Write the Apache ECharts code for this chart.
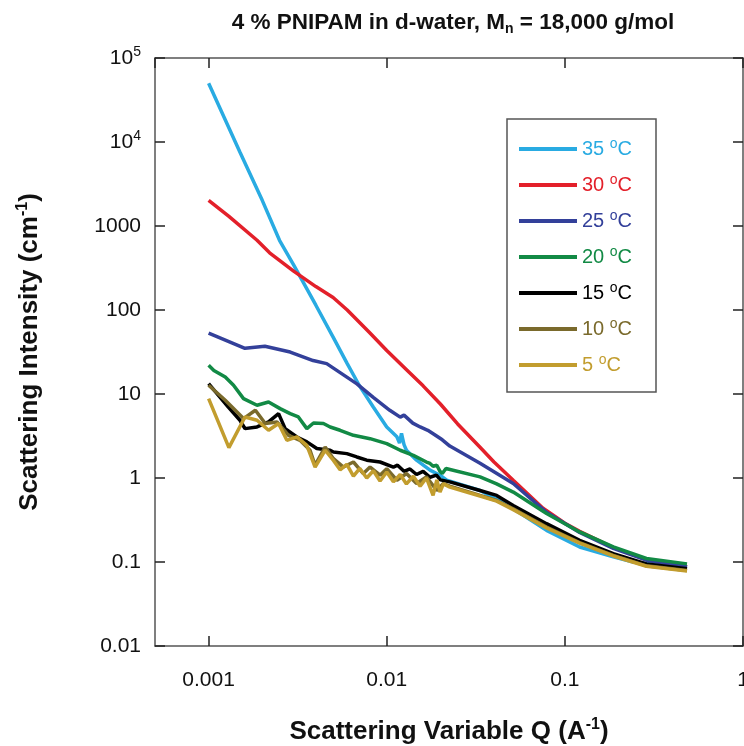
<!DOCTYPE html>
<html>
<head>
<meta charset="utf-8">
<script src="https://cdn.jsdelivr.net/npm/echarts@6/dist/echarts.min.js"></script>
<style>
  html, body { margin: 0; padding: 0; background: #fff; }
  #chart { width: 744px; height: 746px; }
</style>
</head>
<body>
<div id="chart"></div>
<script>
// Q (A^-1) and scattering intensity (cm^-1), one pair per temperature
const q35 = [0.001, 0.0015, 0.002, 0.0025, 0.003, 0.004, 0.005, 0.006, 0.007, 0.0084, 0.01, 0.0114, 0.0118, 0.0121, 0.0125, 0.0129, 0.0147, 0.0175, 0.0199, 0.0217, 0.0334, 0.0414, 0.0513, 0.0789, 0.121, 0.187, 0.242, 0.485];
const i35 = [50000, 7540, 2020, 676, 344, 114, 47.5, 23, 12.7, 7.0, 4.05, 3.1, 2.6, 3.4, 2.5, 2.14, 1.63, 1.24, 1.08, 0.94, 0.71, 0.56, 0.43, 0.238, 0.151, 0.115, 0.10, 0.085];

const q30 = [0.001, 0.0013, 0.00187, 0.0022, 0.003, 0.004, 0.005, 0.006, 0.008, 0.01, 0.013, 0.016, 0.02, 0.025, 0.0334, 0.04, 0.0513, 0.0754, 0.1, 0.121, 0.187, 0.287, 0.485];
const i30 = [2020, 1300, 676, 480, 290, 190, 141, 100, 54, 33, 19.2, 12.5, 7.6, 4.4, 2.32, 1.55, 0.94, 0.436, 0.29, 0.232, 0.148, 0.107, 0.088];

const q25 = [0.001, 0.0016, 0.00207, 0.00287, 0.00386, 0.0046, 0.00597, 0.0068, 0.0084, 0.0104, 0.0119, 0.0125, 0.014, 0.0154, 0.017, 0.0185, 0.0205, 0.0226, 0.0334, 0.0513, 0.0789, 0.121, 0.187, 0.287, 0.485];
const i25 = [53, 35, 37, 31.6, 25, 23, 15.9, 13.2, 9.1, 6.4, 5.3, 5.6, 4.5, 4.05, 3.7, 3.3, 2.85, 2.4, 1.5, 0.86, 0.39, 0.225, 0.145, 0.105, 0.088];

const q20 = [0.001, 0.00107, 0.00124, 0.00138, 0.00157, 0.00187, 0.00217, 0.00252, 0.00287, 0.00319, 0.00356, 0.00388, 0.00441, 0.00481, 0.00547, 0.0065, 0.00806, 0.01, 0.0119, 0.0141, 0.0167, 0.0175, 0.0182, 0.0191, 0.0199, 0.0205, 0.0215, 0.0334, 0.0414, 0.0513, 0.0789, 0.121, 0.187, 0.287, 0.485];
const i20 = [22, 19.1, 15.9, 12.7, 8.82, 7.34, 8.03, 6.70, 5.84, 5.33, 3.87, 4.52, 4.45, 4.05, 3.70, 3.22, 2.94, 2.57, 2.14, 1.86, 1.55, 1.49, 1.38, 1.42, 1.20, 1.13, 1.30, 1.03, 0.85, 0.68, 0.377, 0.228, 0.151, 0.11, 0.095];

const q15 = [0.001, 0.00129, 0.0015, 0.0016, 0.00187, 0.00217, 0.00247, 0.00269, 0.00313, 0.00356, 0.00405, 0.00481, 0.00502, 0.00597, 0.00679, 0.00772, 0.00917, 0.0109, 0.0115, 0.0125, 0.0135, 0.0147, 0.016, 0.0175, 0.019, 0.02, 0.0226, 0.0334, 0.0414, 0.0513, 0.0789, 0.121, 0.187, 0.287, 0.485];
const i15 = [13.3, 7.0, 4.87, 3.87, 4.05, 4.65, 5.84, 3.87, 3.08, 2.69, 2.24, 2.14, 2.04, 1.95, 1.78, 1.63, 1.55, 1.35, 1.42, 1.20, 1.28, 1.10, 1.20, 1.02, 1.08, 0.95, 0.90, 0.71, 0.62, 0.47, 0.286, 0.181, 0.126, 0.095, 0.083];

const q10 = [0.001, 0.00124, 0.00157, 0.00183, 0.00208, 0.00242, 0.00281, 0.00326, 0.00371, 0.00396, 0.00451, 0.00502, 0.00571, 0.0065, 0.00739, 0.00806, 0.00917, 0.01, 0.0114, 0.0129, 0.0147, 0.0167, 0.0191, 0.0208, 0.0226, 0.0334, 0.0414, 0.0513, 0.0789, 0.121, 0.187, 0.287, 0.485];
const i10 = [12.7, 8.41, 5.10, 6.40, 4.45, 4.65, 3.22, 2.81, 2.14, 1.42, 2.34, 1.70, 1.35, 1.55, 1.13, 1.35, 1.08, 1.29, 0.94, 1.13, 0.86, 1.03, 0.71, 0.86, 0.80, 0.62, 0.54, 0.43, 0.26, 0.17, 0.12, 0.09, 0.079];

const q5 = [0.001, 0.0013, 0.0016, 0.00187, 0.00217, 0.00247, 0.00275, 0.00313, 0.00356, 0.00396, 0.00451, 0.00502, 0.00547, 0.00597, 0.0065, 0.00706, 0.00772, 0.00841, 0.00917, 0.01, 0.0109, 0.0119, 0.0129, 0.0141, 0.0154, 0.0167, 0.0182, 0.0191, 0.0199, 0.0208, 0.0226, 0.0334, 0.0414, 0.0513, 0.0789, 0.121, 0.187, 0.287, 0.485];
const i5 = [8.82, 2.3, 5.33, 4.87, 3.70, 4.45, 2.81, 3.08, 2.45, 1.35, 2.14, 1.62, 1.25, 1.45, 1.05, 1.30, 1.00, 1.22, 0.92, 1.18, 0.90, 1.10, 0.85, 1.05, 0.80, 1.00, 0.62, 0.95, 0.68, 0.85, 0.78, 0.61, 0.53, 0.42, 0.255, 0.168, 0.118, 0.089, 0.078];

const temps = ['35', '30', '25', '20', '15', '10', '5'];
const colors = ['#29abe2', '#e3202a', '#33409a', '#128a45', '#000000', '#7a6a2c', '#c29d2e'];
const qs = [q35, q30, q25, q20, q15, q10, q5];
const is = [i35, i30, i25, i20, i15, i10, i5];

// tick labels indexed by decade
const xTickLabels = ['0.001', '0.01', '0.1', '1'];          // 1e-3 .. 1e0
const yTickLabels = ['0.01', '0.1', '1', '10', '100', '1000', '10{sup|4}', '10{sup|5}']; // 1e-2 .. 1e5

const font = '"Liberation Sans", Arial, sans-serif';

function decadeLabel(v, labels, first) {
  const lg = Math.log10(v);
  const e = Math.round(lg);
  if (Math.abs(lg - e) > 0.01) return '';
  return labels[e - first] || '';
}

const chart = echarts.init(document.getElementById('chart'));

const tickStyle = { inside: true, length: 10, lineStyle: { color: '#222', width: 1.5 } };
const lineStyle = { lineStyle: { color: '#555', width: 1.5 } };
const supStyle = { fontFamily: font, fontSize: 16, fontWeight: 'bold', color: '#111', padding: [0, 0, 14, 0] };

const option = {
  animation: false,
  backgroundColor: '#fff',
  title: {
    text: '4 % PNIPAM in d-water, M{sub|n} = 18,000 g/mol',
    left: 448,
    textAlign: 'center',
    top: 5,
    textStyle: {
      fontFamily: font, fontSize: 22.5, fontWeight: 'bold', color: '#111',
      rich: { sub: { fontFamily: font, fontSize: 14, fontWeight: 'bold', color: '#111', padding: [12, 0, 0, 0] } }
    }
  },
  grid: { left: 155, right: 1, top: 58, bottom: 100, containLabel: false, outerBoundsMode: 'none' },
  xAxis: [{
    type: 'log', logBase: 10, min: 0.0005, max: 1, position: 'bottom',
    axisLine: lineStyle, axisTick: tickStyle, splitLine: { show: false },
    axisLabel: {
      showMinLabel: false, margin: 24, fontSize: 21, color: '#111', fontFamily: font,
      formatter: v => decadeLabel(v, xTickLabels, -3)
    },
    name: 'Scattering Variable Q (A{sup|-1})', nameLocation: 'middle', nameGap: 71,
    nameTextStyle: {
      fontFamily: font, fontSize: 26, fontWeight: 'bold', color: '#111', rich: { sup: supStyle }
    }
  }, {
    type: 'log', logBase: 10, min: 0.0005, max: 1, position: 'top',
    axisLine: lineStyle, axisTick: tickStyle, splitLine: { show: false }, axisLabel: { show: false }
  }],
  yAxis: [{
    type: 'log', logBase: 10, min: 0.01, max: 100000, position: 'left',
    axisLine: lineStyle, axisTick: tickStyle, splitLine: { show: false },
    axisLabel: {
      margin: 14, fontSize: 21, color: '#111', fontFamily: font,
      formatter: v => decadeLabel(v, yTickLabels, -2),
      rich: { sup: { fontFamily: font, fontSize: 14, color: '#111', padding: [0, 0, 12, 0] } }
    },
    name: 'Scattering Intensity (cm{sup|-1})', nameLocation: 'middle', nameGap: 110,
    nameTextStyle: {
      fontFamily: font, fontSize: 26, fontWeight: 'bold', color: '#111', rich: { sup: supStyle }
    }
  }, {
    type: 'log', logBase: 10, min: 0.01, max: 100000, position: 'right',
    axisLine: lineStyle, axisTick: tickStyle, splitLine: { show: false }, axisLabel: { show: false }
  }],
  legend: {
    orient: 'vertical', left: 519, top: 136, padding: 0,
    itemWidth: 58, itemHeight: 4, itemGap: 10, icon: 'rect',
    data: temps.map((t, k) => ({ name: t, textStyle: { color: colors[k] } })),
    formatter: name => name + ' {sup|o}C',
    textStyle: {
      fontFamily: font, fontSize: 20, lineHeight: 26,
      rich: { sup: { fontFamily: font, fontSize: 14, padding: [0, 0, 10, 0] } }
    }
  },
  graphic: [{
    type: 'rect', z: -1,
    shape: { x: 507, y: 119, width: 149, height: 273 },
    style: { fill: '#fff', stroke: '#555', lineWidth: 1.5 }
  }],
  series: temps.map((t, k) => ({
    name: t, type: 'line', showSymbol: false, symbol: 'none',
    data: qs[k].map((q, j) => [q, is[k][j]]),
    lineStyle: { width: 3.5, color: colors[k] },
    itemStyle: { color: colors[k] }
  }))
};

chart.setOption(option);
</script>
</body>
</html>
